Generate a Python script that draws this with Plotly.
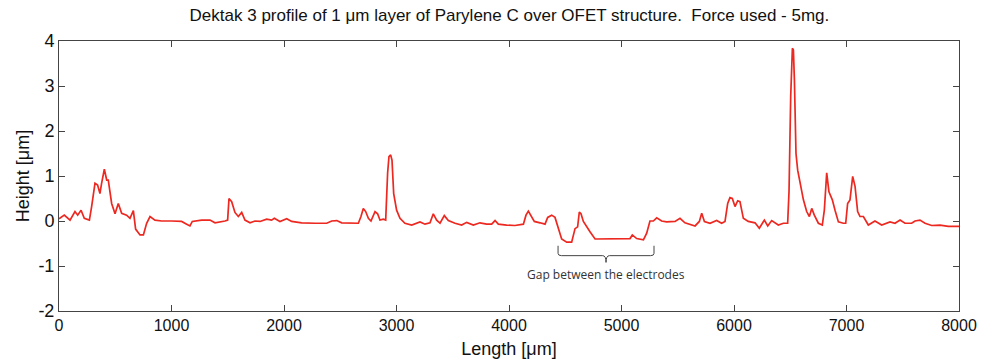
import plotly.graph_objects as go

length_um = [
    0, 47, 98, 142, 166, 196, 225, 270, 290, 320,
    343, 364, 379, 403, 424, 438, 468, 498, 527, 557,
    601, 631, 661, 681, 720, 750, 779, 809, 853, 912,
    1001, 1090, 1135, 1164, 1185, 1268, 1342, 1387, 1476, 1499,
    1511, 1535, 1564, 1594, 1624, 1653, 1698, 1742, 1787, 1846,
    1890, 1914, 1964, 2024, 2068, 2157, 2276, 2380, 2424, 2469,
    2513, 2587, 2661, 2684, 2705, 2726, 2750, 2773, 2809, 2832,
    2853, 2883, 2904, 2921, 2933, 2948, 2960, 2975, 3001, 3031,
    3075, 3135, 3188, 3209, 3253, 3298, 3327, 3357, 3387, 3425,
    3461, 3520, 3579, 3624, 3683, 3742, 3801, 3846, 3876, 3905,
    3979, 4053, 4128, 4151, 4172, 4196, 4225, 4276, 4320, 4344,
    4379, 4409, 4439, 4468, 4513, 4557, 4587, 4610, 4625, 4640,
    4661, 4690, 4720, 4765, 4803, 4957, 5076, 5096, 5135, 5195,
    5224, 5253, 5283, 5313, 5357, 5401, 5476, 5520, 5564, 5654,
    5692, 5713, 5737, 5787, 5846, 5890, 5920, 5944, 5964, 5985,
    6009, 6033, 6053, 6083, 6127, 6187, 6225, 6270, 6300, 6335,
    6364, 6394, 6439, 6477, 6489, 6504, 6519, 6528, 6537, 6551,
    6566, 6587, 6617, 6646, 6670, 6691, 6714, 6750, 6785, 6803,
    6824, 6844, 6874, 6898, 6928, 6972, 6993, 7010, 7031, 7055,
    7076, 7099, 7120, 7150, 7194, 7253, 7313, 7387, 7431, 7476,
    7520, 7579, 7609, 7653, 7698, 7757, 7831, 7905, 8000,
]

height_um = [
    0.05, 0.13, 0.02, 0.21, 0.13, 0.24, 0.06, 0.02, 0.32, 0.84,
    0.80, 0.61, 0.84, 1.15, 0.91, 0.91, 0.39, 0.16, 0.39, 0.17,
    0.13, 0.06, 0.23, -0.18, -0.31, -0.31, -0.05, 0.10, 0.02, 0.00,
    0.00, -0.01, -0.07, -0.11, -0.01, 0.02, 0.02, -0.04, 0.00, 0.02,
    0.50, 0.43, 0.19, 0.10, 0.19, 0.02, -0.04, 0.00, -0.01, 0.04,
    0.02, 0.06, -0.01, 0.05, -0.01, -0.04, -0.05, -0.05, 0.00, 0.01,
    -0.04, -0.05, -0.05, 0.10, 0.28, 0.21, 0.06, 0.00, 0.21, 0.16,
    0.02, 0.04, 0.02, 1.06, 1.43, 1.47, 1.35, 0.61, 0.24, 0.06,
    -0.05, -0.09, -0.05, -0.02, -0.07, -0.04, 0.16, 0.02, -0.05, 0.12,
    0.01, -0.05, -0.09, -0.03, -0.09, -0.04, -0.07, -0.07, 0.01, -0.07,
    -0.09, -0.10, -0.07, 0.13, 0.22, 0.10, -0.01, -0.04, -0.07, 0.08,
    0.13, 0.08, -0.17, -0.40, -0.47, -0.47, -0.17, -0.13, 0.20, 0.16,
    -0.01, -0.11, -0.24, -0.40, -0.40, -0.40, -0.39, -0.31, -0.39, -0.42,
    -0.27, 0.00, 0.00, 0.07, 0.00, -0.02, -0.01, 0.06, -0.04, -0.11,
    -0.01, 0.17, -0.01, -0.05, 0.01, -0.05, -0.01, 0.39, 0.52, 0.50,
    0.32, 0.45, 0.43, 0.06, -0.01, -0.04, -0.16, 0.02, -0.11, 0.01,
    -0.04, -0.09, -0.05, -0.05, 0.65, 2.76, 3.84, 3.80, 3.13, 1.50,
    1.13, 0.84, 0.47, 0.21, 0.10, 0.28, 0.13, -0.05, -0.09, 0.24,
    1.07, 0.65, 0.47, 0.24, -0.02, -0.05, -0.05, 0.39, 0.47, 0.99,
    0.77, 0.21, 0.10, 0.10, -0.09, 0.00, -0.09, -0.02, -0.05, 0.02,
    -0.05, -0.05, 0.00, 0.02, -0.05, -0.10, -0.09, -0.12, -0.12,
]

x_ticks = [0, 1000, 2000, 3000, 4000, 5000, 6000, 7000, 8000]
y_ticks = [-2, -1, 0, 1, 2, 3, 4]
y_tick_text = ["-2", "-1", "0", "1", "2", "3", "4"]

gap_start, gap_end = 4436, 5289
gap_label = "Gap between the electrodes"

fig = go.Figure()
fig.add_trace(go.Scatter(
    x=length_um, y=height_um, mode="lines",
    line=dict(color="rgb(236,40,32)", width=1.7),
    hoverinfo="skip", showlegend=False,
))

# brace under the electrode gap
mid = (gap_start + gap_end) / 2
top_y, bar_y, tip_y = -0.55, -0.77, -0.92
c = 30
brace = (f"M {gap_start},{top_y} L {gap_start},{bar_y + 0.05} "
         f"Q {gap_start},{bar_y} {gap_start + c},{bar_y} "
         f"L {mid - c},{bar_y} Q {mid},{bar_y} {mid},{tip_y} "
         f"Q {mid},{bar_y} {mid + c},{bar_y} "
         f"L {gap_end - c},{bar_y} Q {gap_end},{bar_y} {gap_end},{bar_y + 0.05} "
         f"L {gap_end},{top_y}")
fig.add_shape(type="path", path=brace, xref="x", yref="y",
              line=dict(color="#444444", width=1))
fig.add_annotation(x=mid, y=-1.19, xref="x", yref="y", text=gap_label,
                   showarrow=False, font=dict(family="Open Sans", size=12, color="#333333"))

axis_common = dict(
    showgrid=False, zeroline=False, showline=True, linecolor="#444444", linewidth=1,
    mirror="ticks", ticks="inside", ticklen=6, tickcolor="#444444", tickwidth=1,
    automargin=False,
)

fnt = "Liberation Sans, Arial"
fig.update_layout(
    width=995, height=360,
    margin=dict(l=59, r=36, t=41, b=49),
    paper_bgcolor="white", plot_bgcolor="white",
    title=dict(text="Dektak 3 profile of 1 \u03bcm layer of Parylene C over OFET structure.  Force used - 5mg.",
               x=0.512, xanchor="center", y=0.958, yanchor="middle",
               font=dict(family=fnt, size=17, color="#111111")),
    xaxis=dict(range=[0, 8000], tickvals=x_ticks,
               tickfont=dict(family=fnt, size=16, color="#111111"),
               title=dict(text="Length [\u03bcm]", standoff=9,
                          font=dict(family=fnt, size=18, color="#111111")),
               **axis_common),
    yaxis=dict(range=[-2, 4], tickvals=y_ticks, ticktext=y_tick_text,
               tickfont=dict(family=fnt, size=18, color="#111111"),
               title=dict(text="Height [\u03bcm]", standoff=4,
                          font=dict(family=fnt, size=18, color="#111111")),
               **axis_common),
)

fig.write_html("out.html")
